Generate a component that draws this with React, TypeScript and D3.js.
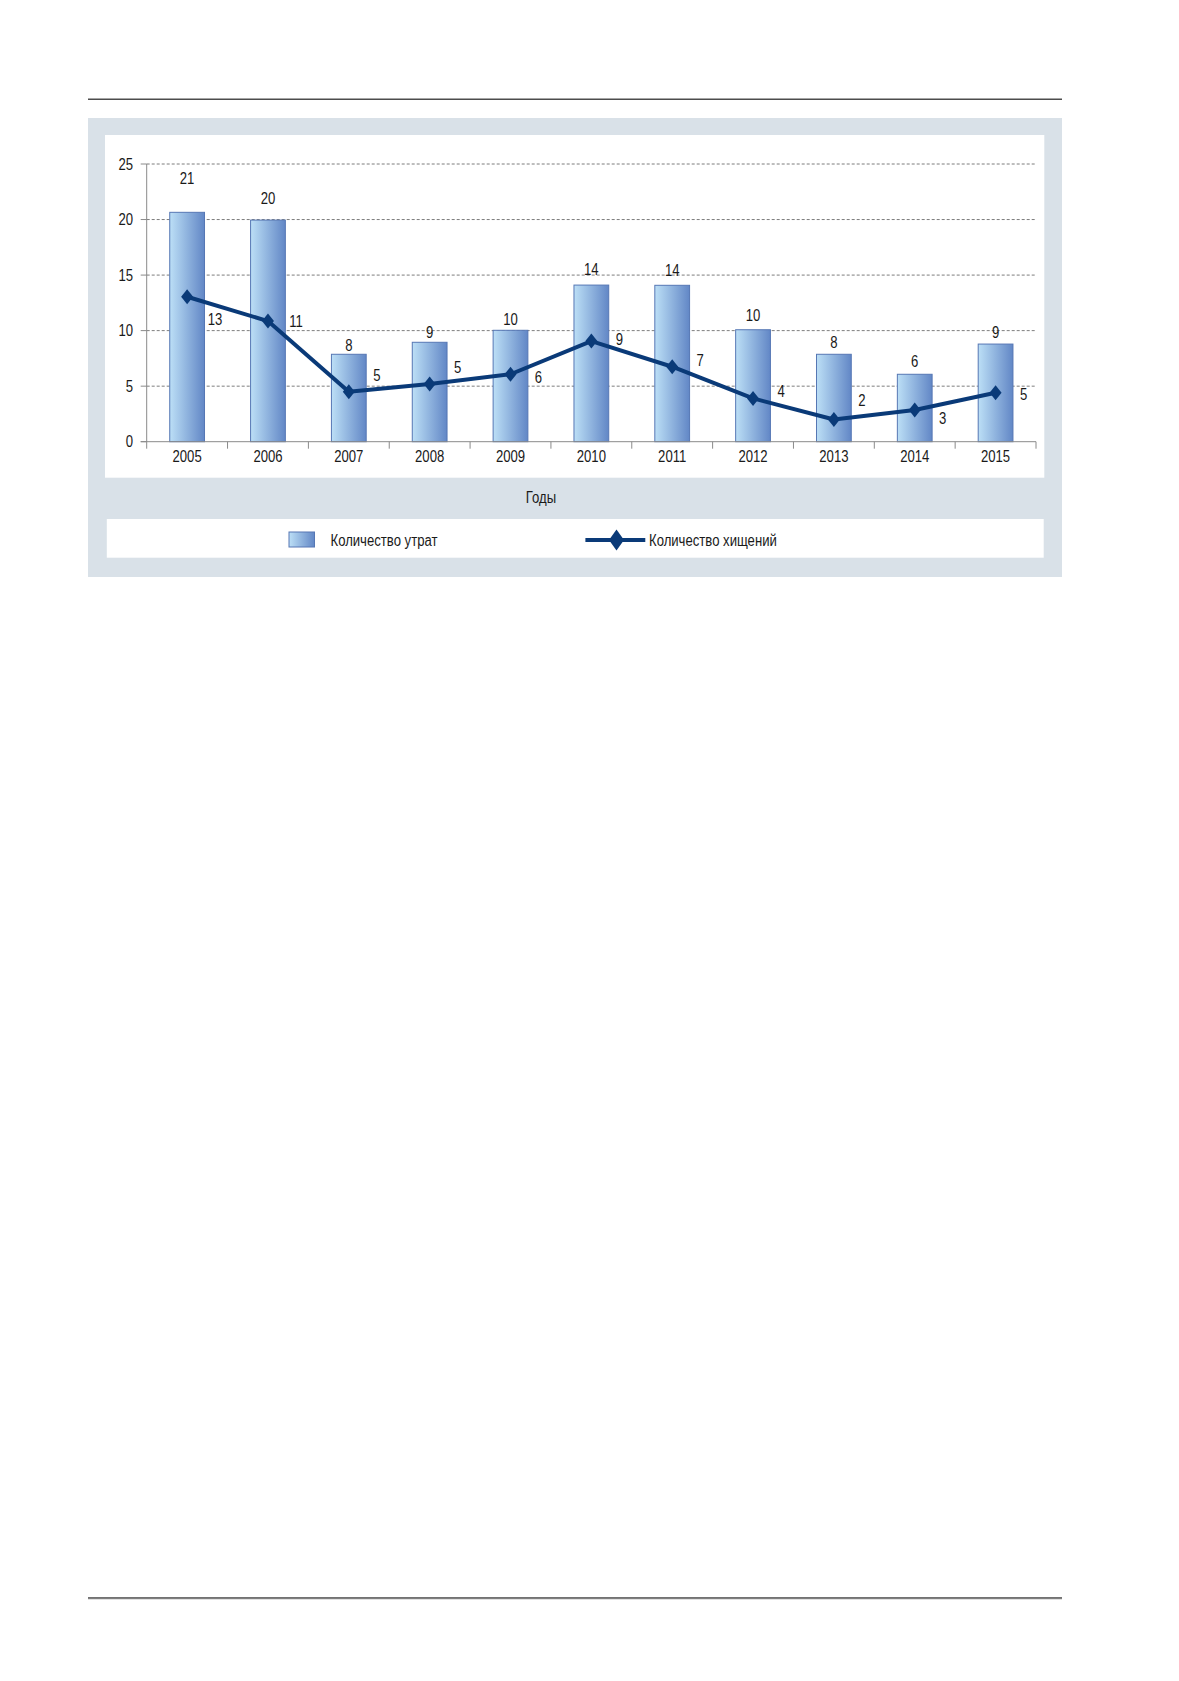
import React from "react";
import * as d3 from "d3";

// chart data
const years = ["2005", "2006", "2007", "2008", "2009", "2010", "2011", "2012", "2013", "2014", "2015"];
const losses = [20.65, 19.95, 7.87, 8.95, 10.03, 14.1, 14.08, 10.08, 7.87, 6.07, 8.79];
const lossLabels = ["21", "20", "8", "9", "10", "14", "14", "10", "8", "6", "9"];
const thefts = [13.05, 10.86, 4.5, 5.19, 6.07, 9.06, 6.75, 3.9, 2.0, 2.85, 4.41];
const theftLabels = ["13", "11", "5", "5", "6", "9", "7", "4", "2", "3", "5"];
const yTicks = [0, 5, 10, 15, 20, 25];

const width = 1179;
const height = 1681;
// Arial Narrow is not available: squeeze Liberation Sans horizontally instead
const font = "'Liberation Sans', Arial, sans-serif";
const squeeze = 0.82;

const plotLeft = 146.7;
const plotRight = 1036;
const plotTop = 164;
const plotBottom = 441.7;

// hand placement of the value labels, as in the source layout
const barLabelLift = [34, 22, 9, 10, 11, 16, 15, 14, 12, 13, 12];
const lineLabelDy = [23, 0, -16, -17, 3, -2, -6, -7, -19, 8, 2];

const x = d3.scaleBand().domain(years).range([plotLeft, plotRight]).paddingInner(0.57).paddingOuter(0.285);
const xb = d3.scaleBand().domain(years).range([plotLeft, plotRight]);
const y = d3.scaleLinear().domain([0, 25]).range([plotBottom, plotTop]);

const line = d3
  .line<number>()
  .x((_, i) => xb(years[i])! + xb.bandwidth() / 2)
  .y((d) => y(d));

const diamond = (cx: number, cy: number, w: number, h: number) =>
  `M${cx},${cy - h / 2}L${cx + w / 2},${cy}L${cx},${cy + h / 2}L${cx - w / 2},${cy}Z`;

type LabelProps = {
  x: number;
  y: number;
  anchor?: "start" | "middle" | "end";
  children: React.ReactNode;
};

const Label = ({ x, y, anchor = "start", children }: LabelProps) => (
  <text
    transform={`translate(${x},${y}) scale(${squeeze},1)`}
    textAnchor={anchor}
    fontSize={16}
    fill="#1a1a1a"
  >
    {children}
  </text>
);

const App = () => {
  const navy = "#0a3a78";
  return (
    <svg
      width={width}
      height={height}
      style={{ position: "absolute", left: 0, top: 0, background: "#fff" }}
      fontFamily={font}
    >
      <defs>
        <linearGradient id="barGrad" x1="0%" y1="0%" x2="100%" y2="0%">
          <stop offset="0%" stopColor="#bcdff6" />
          <stop offset="100%" stopColor="#6287c6" />
        </linearGradient>
      </defs>

      {/* page rules */}
      <line x1={88} x2={1062} y1={99.3} y2={99.3} stroke="#4d4d4d" strokeWidth={1.4} />
      <line x1={88} x2={1062} y1={1598.8} y2={1598.8} stroke="#9a9a9a" strokeWidth={1} />
      <line x1={88} x2={1062} y1={1597.8} y2={1597.8} stroke="#444" strokeWidth={1.3} />

      {/* panels */}
      <rect x={88} y={118} width={1062 - 88} height={577 - 118} fill="#d9e1e8" />
      <rect x={105} y={135} width={1044.3 - 105} height={477.7 - 135} fill="#fff" />
      <rect x={106.8} y={519} width={1043.7 - 106.8} height={557.7 - 519} fill="#fff" />

      {/* grid */}
      {yTicks
        .filter((t) => t > 0)
        .map((t) => (
          <line
            key={t}
            x1={plotLeft}
            x2={plotRight}
            y1={y(t)}
            y2={y(t)}
            stroke="#6e6e6e"
            strokeWidth={0.9}
            strokeDasharray="3,2"
          />
        ))}

      {/* y axis */}
      <line x1={plotLeft} x2={plotLeft} y1={plotTop} y2={plotBottom} stroke="#8a8a8a" strokeWidth={1} />
      {yTicks.map((t) => (
        <g key={t}>
          <line x1={plotLeft - 6} x2={plotLeft} y1={y(t)} y2={y(t)} stroke="#8a8a8a" strokeWidth={1} />
          <Label x={133} y={y(t) + 5.7} anchor="end">
            {t}
          </Label>
        </g>
      ))}

      {/* bars */}
      {losses.map((v, i) => (
        <rect
          key={years[i]}
          x={x(years[i])}
          y={y(v)}
          width={x.bandwidth()}
          height={plotBottom - y(v)}
          fill="url(#barGrad)"
          stroke="#5677b4"
          strokeWidth={1}
        />
      ))}
      {losses.map((v, i) => (
        <Label
          key={years[i]}
          x={xb(years[i])! + xb.bandwidth() / 2}
          y={y(v) - barLabelLift[i] + 5.7}
          anchor="middle"
        >
          {lossLabels[i]}
        </Label>
      ))}

      {/* x axis */}
      <line x1={plotLeft - 6} x2={plotRight} y1={plotBottom} y2={plotBottom} stroke="#8a8a8a" strokeWidth={1} />
      {[...years.map((yr) => xb(yr)!), plotRight].map((px, i) => (
        <line key={i} x1={px} x2={px} y1={plotBottom} y2={plotBottom + 7} stroke="#8a8a8a" strokeWidth={1} />
      ))}
      {years.map((yr) => (
        <Label key={yr} x={xb(yr)! + xb.bandwidth() / 2} y={461.5} anchor="middle">
          {yr}
        </Label>
      ))}

      {/* line series */}
      <path d={line(thefts)!} fill="none" stroke={navy} strokeWidth={4} strokeLinejoin="round" />
      {thefts.map((v, i) => {
        const cx = xb(years[i])! + xb.bandwidth() / 2;
        return <path key={years[i]} d={diamond(cx, y(v), 12, 15)} fill={navy} />;
      })}
      {thefts.map((v, i) => (
        <Label
          key={years[i]}
          x={xb(years[i])! + xb.bandwidth() / 2 + 28}
          y={y(v) + lineLabelDy[i] + 5.7}
          anchor="middle"
        >
          {theftLabels[i]}
        </Label>
      ))}

      {/* axis title */}
      <Label x={541} y={502.5} anchor="middle">
        Годы
      </Label>

      {/* legend */}
      <rect x={289} y={532} width={25.5} height={15} fill="url(#barGrad)" stroke="#5677b4" strokeWidth={1} />
      <Label x={330.5} y={545.5}>Количество утрат</Label>
      <line x1={585.4} x2={645.3} y1={540} y2={540} stroke={navy} strokeWidth={4} />
      <path d={diamond(616.5, 540, 15, 21)} fill={navy} />
      <Label x={649} y={545.5}>Количество хищений</Label>
    </svg>
  );
};

export default App;
